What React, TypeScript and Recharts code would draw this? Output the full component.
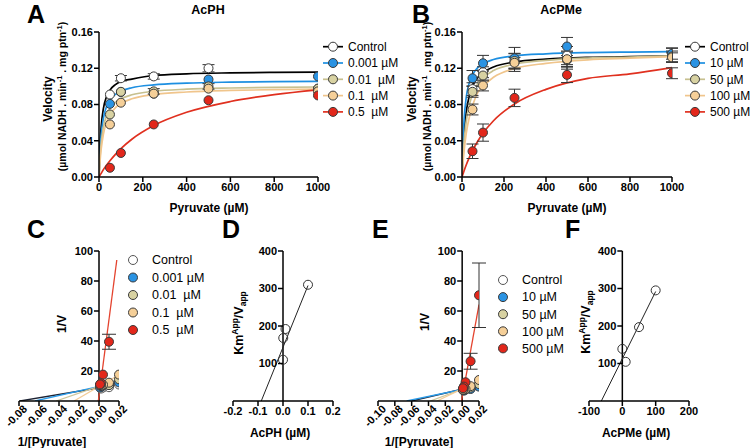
import React from "react";
import {
  ComposedChart,
  ErrorBar,
  Line,
  ReferenceLine,
  Scatter,
  XAxis,
  YAxis,
} from "recharts";

const FONT = "'Liberation Sans', Arial, Helvetica, sans-serif";

// substrate
const pyruvate = [50, 100, 250, 500, 1000];
const invPyruvate = [0.02, 0.01, 0.004, 0.002, 0.001];
const fitX = [0, 5, 10, 20, 35, 50, 75, 100, 150, 250, 400, 600, 800, 1000];

// A - AcPH, velocity vs pyruvate
const acphLabels = ["Control", "0.001 µM", "0.01  µM", "0.1  µM", "0.5  µM"];
const acphVel = [
  [0.091, 0.109, 0.111, 0.12, 0.0975],
  [0.0807, 0.0938, 0.092, 0.1076, 0.111],
  [0.069, 0.094, 0.0945, 0.1, 0.0975],
  [0.058, 0.082, 0.092, 0.0975, 0.0945],
  [0.0102, 0.0265, 0.058, 0.0847, 0.09],
];
const acphErr = [
  [0, 0.003, 0.003, 0.004, 0],
  [0, 0, 0, 0, 0],
  [0, 0, 0.003, 0.003, 0],
  [0, 0, 0, 0, 0],
  [0, 0, 0, 0, 0],
];
const acphFit = [
  [0, 0.0366, 0.0557, 0.0755, 0.089, 0.0959, 0.102, 0.1054, 0.108, 0.112, 0.1139, 0.1149, 0.1154, 0.1157],
  [0, 0.0297, 0.0465, 0.0648, 0.078, 0.0849, 0.0912, 0.0947, 0.0985, 0.1017, 0.1036, 0.1047, 0.1053, 0.1056],
  [0, 0.0229, 0.0374, 0.0546, 0.068, 0.0754, 0.0823, 0.0863, 0.0907, 0.0946, 0.0969, 0.0982, 0.0989, 0.0993],
  [0, 0.0183, 0.0309, 0.0471, 0.0608, 0.0688, 0.0765, 0.0811, 0.0863, 0.091, 0.0938, 0.0955, 0.0964, 0.0969],
  [0, 0.0021, 0.004, 0.0081, 0.0131, 0.0179, 0.025, 0.0313, 0.0417, 0.0568, 0.0714, 0.0833, 0.0909, 0.0962],
];

// B - AcPMe, velocity vs pyruvate
const acpmeLabels = ["Control", "10 µM", "50 µM", "100 µM", "500 µM"];
const acpmeVel = [
  [0.097, 0.1156, 0.1265, 0.134, 0.1345],
  [0.109, 0.1255, 0.131, 0.144, 0.136],
  [0.094, 0.112, 0.128, 0.129, 0.133],
  [0.0745, 0.101, 0.126, 0.13, 0.132],
  [0.0284, 0.049, 0.0873, 0.1127, 0.1145],
];
const acpmeErr = [
  [0.007, 0.006, 0.01, 0.01, 0.008],
  [0.0085, 0.0087, 0.012, 0.01, 0.006],
  [0.006, 0.006, 0.008, 0.01, 0.006],
  [0.006, 0.006, 0.006, 0.008, 0.005],
  [0.008, 0.0095, 0.0096, 0.0085, 0.006],
];
const acpmeFit = [
  [0, 0.0296, 0.0486, 0.0716, 0.0898, 0.1, 0.1097, 0.1153, 0.1214, 0.1269, 0.1301, 0.1321, 0.1329, 0.1336],
  [0, 0.0412, 0.0636, 0.0875, 0.1043, 0.1129, 0.1207, 0.125, 0.1296, 0.1336, 0.1359, 0.1373, 0.1379, 0.1383],
  [0, 0.0228, 0.0391, 0.0609, 0.0799, 0.0913, 0.1028, 0.1096, 0.1174, 0.1245, 0.1287, 0.1313, 0.1324, 0.1337],
  [0, 0.016, 0.0288, 0.0478, 0.0661, 0.0784, 0.0932, 0.1, 0.1101, 0.1198, 0.1254, 0.1293, 0.1311, 0.1329],
  [0, 0.0035, 0.0069, 0.0132, 0.0216, 0.029, 0.0395, 0.0483, 0.0621, 0.0806, 0.0967, 0.1088, 0.1138, 0.1208],
];

// C - AcPH double reciprocal
const lbAcph = [
  [11.0, 9.2, 9.0, 8.3, 10.3],
  [12.4, 10.7, 10.9, 9.3, 9.0],
  [14.5, 10.6, 10.6, 10.0, 10.3],
  [17.6, 12.2, 10.9, 10.3, 10.6],
  [null, 39.5, 17.6, 11.8, 11.1],
];
const lbAcphErr = [
  [0, 0, 0, 0, 0],
  [0, 0, 0, 0, 0],
  [0, 0, 0, 0, 0],
  [0, 0, 0, 0, 0],
  [0, 5, 0, 0, 0],
];
const lbAcphLineX = [[-0.079, 0.02], [-0.064, 0.02], [-0.043, 0.02], [-0.025, 0.02], [-0.0007, 0.0178]];
const lbAcphLineY = [[0, 11.0], [0, 12.8], [0, 14.5], [0, 17.5], [0, 94]];

// E - AcPMe double reciprocal
const lbAcpme = [
  [10.3, 8.65, 7.9, 7.46, 7.4],
  [9.6, 8.0, 7.6, 6.9, 7.35],
  [11.3, 8.9, 7.8, 7.75, 7.5],
  [14.0, 9.9, 7.9, 7.7, 7.6],
  [70.5, 26.5, 12.5, 9.6, 8.5],
];
const lbAcpmeErr = [
  [0, 0, 0, 0, 0],
  [0, 0, 0, 0, 0],
  [0, 0, 0, 0, 0],
  [0, 0, 0, 0, 0],
  [21.5, 5.3, 0, 0, 0],
];
const lbAcpmeLineX = [[-0.06, 0.02], [-0.066, 0.02], [-0.038, 0.02], [-0.03, 0.02], [-0.0008, 0.02]];
const lbAcpmeLineY = [[0, 10.5], [0, 10.0], [0, 12.0], [0, 13.5], [0, 64.3]];

// D / F - secondary replots
const acphConc = [0, 0.001, 0.01, 0.1];
const acphSlope = [110, 168, 192, 310];
const acphReplotX = [-0.087, 0.1];
const acphReplotY = [0, 308];
const acpmeConc = [0, 10, 50, 100];
const acpmeSlope = [139, 104.5, 197, 295];
const acpmeReplotX = [-63, 100];
const acpmeReplotY = [0, 292];

// styles
const fills = ["#ffffff", "#2a93e3", "#d8d2a2", "#f5cf98", "#e2271b"];
const lineColors = ["#000000", "#1d8fe1", "#c7c08f", "#f0c58c", "#e0301f"];
const lbColors = ["#1c2233", "#2a9be8", "#cdc69a", "#f3cc98", "#e4432e"];

const PAD_L = 60;
const PAD_T = 12;
const PAD_R = 15;
const PAD_B = 45;

const axisStroke = { stroke: "#000", strokeWidth: 1.5 };
const tickFont = { fill: "#000", fontSize: 11, fontWeight: 700, fontFamily: FONT };

type Box = { L: number; T: number; R: number; B: number };
const boxA: Box = { L: 99, T: 32, R: 318, B: 177 };
const boxB: Box = { L: 462, T: 32, R: 672, B: 177 };
const boxC: Box = { L: 19, T: 251, R: 119, B: 401 };
const boxD: Box = { L: 233, T: 251, R: 333, B: 401 };
const boxE: Box = { L: 378, T: 251, R: 479, B: 401 };
const boxF: Box = { L: 589, T: 251, R: 689, B: 401 };

const pts = (xs: number[], ys: (number | null)[], es?: number[]) =>
  xs
    .map((x, i) => ({ x, y: ys[i], e: es ? es[i] : 0 }))
    .filter((p) => p.y !== null);

const dot = (fill: string, stroke: string) => (p: any) =>
  p.cx == null ? <g /> : <circle cx={p.cx} cy={p.cy} r={4.5} fill={fill} stroke={stroke} strokeWidth={1} />;

// x tick labels turned 45 degrees, as in the reciprocal plots
const RotTick = (props: any) => {
  const { x, y, payload } = props;
  const ax = x + 6;
  const ay = y - 1;
  return (
    <text
      x={ax}
      y={ay}
      dy="0.35em"
      transform={`rotate(-45 ${ax} ${ay})`}
      textAnchor="end"
      {...tickFont}
    >
      {Number(payload.value).toFixed(2)}
    </text>
  );
};

// y ticks drawn on the axis that crosses at x = 0
const CrossYTick = (props: any) => {
  const { y, payload, axisX } = props;
  return (
    <g>
      <line x1={axisX - 5} x2={axisX} y1={y} y2={y} stroke="#000" strokeWidth={1.5} />
      <text x={axisX - 6} y={y} dy="0.35em" textAnchor="end" {...tickFont}>
        {payload.value}
      </text>
    </g>
  );
};

function Frame({ box, children }: { box: Box; children: React.ReactNode }) {
  return (
    <div style={{ position: "absolute", left: box.L - PAD_L, top: box.T - PAD_T }}>
      <ComposedChart
        width={box.R - box.L + PAD_L + PAD_R}
        height={box.B - box.T + PAD_T + PAD_B}
        margin={{ top: PAD_T, right: PAD_R, bottom: 0, left: 0 }}
      >
        {children}
      </ComposedChart>
    </div>
  );
}

function velocityPanel(box: Box, vel: number[][], err: number[][], fit: number[][]) {
  return (
    <Frame box={box}>
      <XAxis
        type="number"
        dataKey="x"
        domain={[0, 1000]}
        ticks={[0, 200, 400, 600, 800, 1000]}
        interval={0}
        allowDataOverflow
        height={PAD_B}
        axisLine={axisStroke}
        tickLine={axisStroke}
        tickSize={5}
        tickMargin={1}
        tick={tickFont}
      />
      <YAxis
        type="number"
        dataKey="y"
        domain={[0, 0.16]}
        ticks={[0, 0.04, 0.08, 0.12, 0.16]}
        interval={0}
        allowDataOverflow
        width={PAD_L}
        axisLine={axisStroke}
        tickLine={axisStroke}
        tickSize={5}
        tickMargin={1}
        tick={tickFont}
        tickFormatter={(v: number) => v.toFixed(2)}
      />
      {fit.map((f, i) => (
        <Line
          key={"f" + i}
          data={pts(fitX, f)}
          dataKey="y"
          type="monotone"
          stroke={lineColors[i]}
          strokeWidth={1.7}
          dot={false}
          activeDot={false}
          isAnimationActive={false}
        />
      ))}
      {vel.map((v, i) => (
        <Scatter
          key={"s" + i}
          data={pts(pyruvate, v, err[i])}
          dataKey="y"
          shape={dot(fills[i], "#3a3a3a")}
          isAnimationActive={false}
        >
          <ErrorBar dataKey="e" direction="y" width={6} stroke="#333" strokeWidth={1} />
        </Scatter>
      ))}
    </Frame>
  );
}

function lbPanel(
  box: Box,
  xmin: number,
  ticks: number[],
  vals: (number | null)[][],
  err: number[][],
  lx: number[][],
  ly: number[][]
) {
  const axisX = PAD_L + ((0 - xmin) / (0.02 - xmin)) * (box.R - box.L);
  return (
    <Frame box={box}>
      <XAxis
        type="number"
        dataKey="x"
        domain={[xmin, 0.02]}
        ticks={ticks}
        interval={0}
        allowDataOverflow
        height={PAD_B}
        axisLine={axisStroke}
        tickLine={axisStroke}
        tickSize={5}
        tickMargin={2}
        tick={(p: any) => <RotTick {...p} />}
      />
      <YAxis
        type="number"
        dataKey="y"
        domain={[0, 100]}
        ticks={[20, 40, 60, 80, 100]}
        interval={0}
        allowDataOverflow
        width={PAD_L}
        axisLine={false}
        tickLine={false}
        tick={(p: any) => <CrossYTick {...p} axisX={axisX} />}
      />
      <ReferenceLine x={0} stroke="#000" strokeWidth={1.5} />
      {lx.map((x, i) => (
        <Line
          key={"l" + i}
          data={pts(x, ly[i])}
          dataKey="y"
          type="linear"
          stroke={lbColors[i]}
          strokeWidth={1.3}
          dot={false}
          activeDot={false}
          isAnimationActive={false}
        />
      ))}
      {vals.map((v, i) => (
        <Scatter
          key={"s" + i}
          data={pts(invPyruvate, v, err[i])}
          dataKey="y"
          shape={dot(fills[i], i === 0 ? "#555" : "#3a3a3a")}
          isAnimationActive={false}
        >
          <ErrorBar dataKey="e" direction="y" width={7} stroke="#333" strokeWidth={1} />
        </Scatter>
      ))}
    </Frame>
  );
}

function replotPanel(
  box: Box,
  domain: [number, number],
  ticks: number[],
  fmt: (v: number) => string,
  cx: number[],
  cy: number[],
  lx: number[],
  ly: number[]
) {
  const axisX = PAD_L + ((0 - domain[0]) / (domain[1] - domain[0])) * (box.R - box.L);
  return (
    <Frame box={box}>
      <XAxis
        type="number"
        dataKey="x"
        domain={domain}
        ticks={ticks}
        interval={0}
        allowDataOverflow
        height={PAD_B}
        axisLine={axisStroke}
        tickLine={axisStroke}
        tickSize={5}
        tickMargin={1}
        tick={tickFont}
        tickFormatter={fmt}
      />
      <YAxis
        type="number"
        dataKey="y"
        domain={[0, 400]}
        ticks={[100, 200, 300, 400]}
        interval={0}
        allowDataOverflow
        width={PAD_L}
        axisLine={false}
        tickLine={false}
        tick={(p: any) => <CrossYTick {...p} axisX={axisX} />}
      />
      <ReferenceLine x={0} stroke="#000" strokeWidth={1.5} />
      <Line
        data={pts(lx, ly)}
        dataKey="y"
        type="linear"
        stroke="#222"
        strokeWidth={1}
        dot={false}
        activeDot={false}
        isAnimationActive={false}
      />
      <Scatter
        data={pts(cx, cy)}
        dataKey="y"
        shape={(p: any) => <circle cx={p.cx} cy={p.cy} r={4.5} fill="none" stroke="#333" strokeWidth={1} />}
        isAnimationActive={false}
      />
    </Frame>
  );
}

const txt = { fontFamily: FONT, fill: "#000" };

function Overlay() {
  const letters: [string, number, number][] = [
    ["A", 27, 23],
    ["B", 412, 23],
    ["C", 27, 238],
    ["D", 222, 238],
    ["E", 372, 238],
    ["F", 565, 238],
  ];
  const velTitle = (x1: number, x2: number) => (
    <g>
      <text transform={`translate(${x1},99) rotate(-90)`} textAnchor="middle" fontSize={12} fontWeight={700} {...txt}>
        Velocity
      </text>
      <text transform={`translate(${x2},96.5) rotate(-90)`} textAnchor="middle" fontSize={10.5} fontWeight={700} {...txt}>
        {"(µmol NADH . min"}
        <tspan dy={-4} fontSize={7.5}>-1</tspan>
        <tspan dy={4}>{" . mg ptn"}</tspan>
        <tspan dy={-4} fontSize={7.5}>-1</tspan>
        <tspan dy={4}>)</tspan>
      </text>
    </g>
  );
  const kmTitle = (x: number, y: number) => (
    <text transform={`translate(${x},${y}) rotate(-90)`} textAnchor="middle" fontSize={12.5} fontWeight={700} {...txt}>
      Km
      <tspan dy={-5} fontSize={8.5}>App</tspan>
      <tspan dy={5}>/V</tspan>
      <tspan dy={3} fontSize={8.5}>app</tspan>
    </text>
  );
  const lineLegend = (labels: string[], x: number, y0: number, step: number) =>
    labels.map((name, i) => {
      const y = y0 + step * i;
      return (
        <g key={name}>
          <line x1={x - 10} x2={x + 10} y1={y} y2={y} stroke={lineColors[i]} strokeWidth={1.7} />
          <circle cx={x} cy={y} r={4.5} fill={fills[i]} stroke="#3a3a3a" strokeWidth={1} />
          <text x={x + 15} y={y} dy="0.35em" fontSize={12} style={{ whiteSpace: "pre" }} {...txt}>
            {name}
          </text>
        </g>
      );
    });
  const dotLegend = (labels: string[], x: number, y0: number, step: number) =>
    labels.map((name, i) => {
      const y = y0 + step * i;
      return (
        <g key={name}>
          <circle cx={x} cy={y} r={4.5} fill={fills[i]} stroke={i === 0 ? "#555" : "#3a3a3a"} strokeWidth={1} />
          <text x={x + 19} y={y} dy="0.35em" fontSize={12.5} style={{ whiteSpace: "pre" }} {...txt}>
            {name}
          </text>
        </g>
      );
    });
  return (
    <svg width={750} height={448} style={{ position: "absolute", left: 0, top: 0, pointerEvents: "none" }}>
      {letters.map(([l, x, y]) => (
        <text key={l} x={x} y={y} fontSize={25} fontWeight={700} {...txt}>
          {l}
        </text>
      ))}
      <text x={208} y={14} textAnchor="middle" fontSize={12.5} fontWeight={700} {...txt}>AcPH</text>
      <text x={561} y={14} textAnchor="middle" fontSize={12.5} fontWeight={700} {...txt}>AcPMe</text>
      {velTitle(52, 66)}
      {velTitle(416, 431)}
      <text x={209} y={212} textAnchor="middle" fontSize={12} fontWeight={700} {...txt}>Pyruvate (µM)</text>
      <text x={567} y={212} textAnchor="middle" fontSize={12} fontWeight={700} {...txt}>Pyruvate (µM)</text>
      <text x={52} y={446} textAnchor="middle" fontSize={12} fontWeight={700} {...txt}>1/[Pyruvate]</text>
      <text x={419} y={446} textAnchor="middle" fontSize={12} fontWeight={700} {...txt}>1/[Pyruvate]</text>
      <text x={280} y={437} textAnchor="middle" fontSize={12} fontWeight={700} {...txt}>AcPH (µM)</text>
      <text x={636} y={437} textAnchor="middle" fontSize={12} fontWeight={700} {...txt}>AcPMe (µM)</text>
      <text transform="translate(66,324) rotate(-90)" textAnchor="middle" fontSize={12} fontWeight={700} {...txt}>1/V</text>
      <text transform="translate(429,322) rotate(-90)" textAnchor="middle" fontSize={12} fontWeight={700} {...txt}>1/V</text>
      {kmTitle(243, 323)}
      {kmTitle(590, 322)}
      {lineLegend(acphLabels, 333, 46.7, 16.3)}
      {lineLegend(acpmeLabels, 695, 46.7, 16.3)}
      {dotLegend(acphLabels, 133, 260, 17.5)}
      {dotLegend(acpmeLabels, 503, 280, 17.1)}
    </svg>
  );
}

export default function App() {
  return (
    <div style={{ position: "absolute", left: 0, top: 0, width: 750, height: 448, background: "#fff", overflow: "hidden" }}>
      {velocityPanel(boxA, acphVel, acphErr, acphFit)}
      {velocityPanel(boxB, acpmeVel, acpmeErr, acpmeFit)}
      {lbPanel(boxC, -0.08, [-0.08, -0.06, -0.04, -0.02, 0, 0.02], lbAcph, lbAcphErr, lbAcphLineX, lbAcphLineY)}
      {lbPanel(boxE, -0.1, [-0.1, -0.08, -0.06, -0.04, -0.02, 0, 0.02], lbAcpme, lbAcpmeErr, lbAcpmeLineX, lbAcpmeLineY)}
      {replotPanel(boxD, [-0.2, 0.2], [-0.2, -0.1, 0, 0.1, 0.2], (v) => v.toFixed(1), acphConc, acphSlope, acphReplotX, acphReplotY)}
      {replotPanel(boxF, [-100, 200], [-100, 0, 100, 200], (v) => String(v), acpmeConc, acpmeSlope, acpmeReplotX, acpmeReplotY)}
      <Overlay />
    </div>
  );
}
